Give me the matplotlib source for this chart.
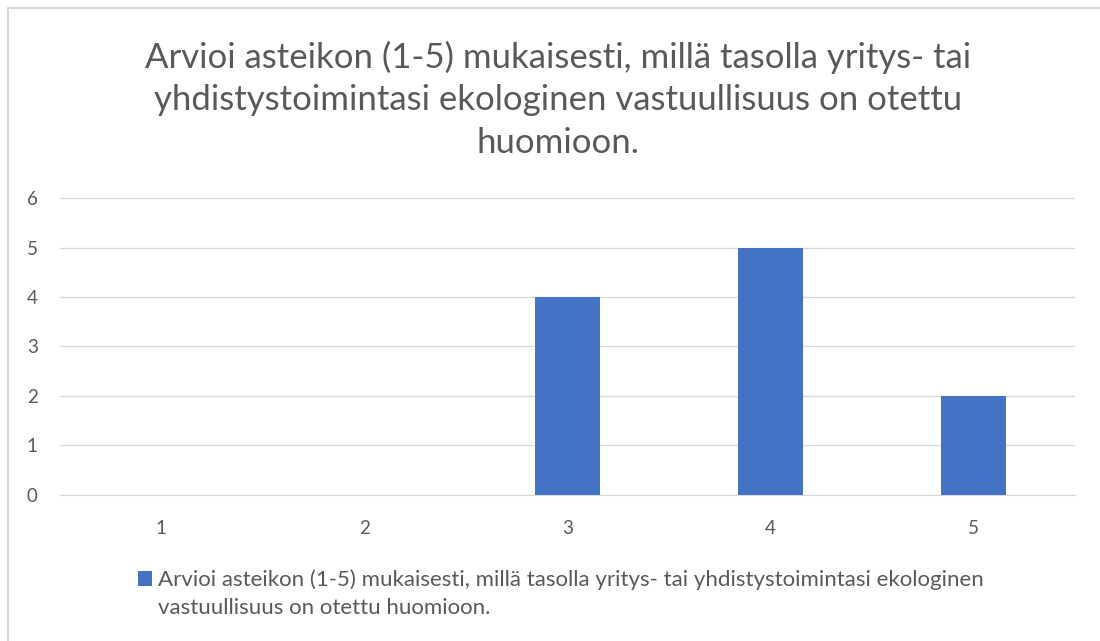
import matplotlib.pyplot as plt
from matplotlib.lines import Line2D
from matplotlib.patches import Rectangle
from matplotlib.container import BarContainer
from matplotlib.legend_handler import HandlerPatch, update_from_first_child

# данные
kategoriat = ['1', '2', '3', '4', '5']
arvot = [0, 0, 4, 5, 2]
y_ticks = [0, 1, 2, 3, 4, 5, 6]
otsikko = ('Arvioi asteikon (1-5) mukaisesti, millä tasolla yritys- tai\n'
           'yhdistystoimintasi ekologinen vastuullisuus on otettu\nhuomioon.')
selite = ('Arvioi asteikon (1-5) mukaisesti, millä tasolla yritys- tai yhdistystoimintasi ekologinen\n'
          'vastuullisuus on otettu huomioon.')

plt.rcParams['font.family'] = ['Lato', 'DejaVu Sans']

fig = plt.figure(figsize=(11, 6.41), dpi=100)
ax = fig.add_axes([0.0545, 0.228, 0.9225, 0.463])

x = range(len(kategoriat))
ax.bar(x, arvot, width=0.32, color='#4472C4', zorder=3, label=selite)
ax.set_xlim(-0.5, len(kategoriat) - 0.5)
ax.set_ylim(0, 6)
ax.set_yticks(y_ticks)
ax.set_xticks(list(x))
ax.set_xticklabels(kategoriat)
ax.grid(axis='y', color='#D9D9D9', linewidth=1, zorder=0)
for s in ['top', 'right', 'left']:
    ax.spines[s].set_visible(False)
ax.spines['bottom'].set_color('#D9D9D9')
ax.tick_params(length=0, labelsize=13.5, colors='#595959')
ax.tick_params(axis='x', pad=18)
ax.tick_params(axis='y', pad=16)

fig.text(0.507, 0.937, otsikko, ha='center', va='top', fontsize=25,
         color='#595959', linespacing=1.42)


# квадратик легенды на уровне первой строки
def ruutu(legend, orig_handle, xdescent, ydescent, width, height, fontsize):
    return Rectangle((-xdescent, -ydescent + 0.7 * fontsize), width, height)


leg = fig.legend(loc='upper left', bbox_to_anchor=(0.125, 0.111), frameon=False,
                 fontsize=16, labelcolor='#595959', handlelength=0.65, handleheight=0.65,
                 handletextpad=0.25, borderpad=0, borderaxespad=0,
                 handler_map={BarContainer: HandlerPatch(patch_func=ruutu,
                                                         update_func=update_from_first_child)})
leg.get_texts()[0].set_linespacing(1.45)

# рамка вокруг диаграммы (видна только слева и сверху)
bx, by = 8 / 1100, 1 - 8 / 641
fig.add_artist(Line2D([bx, bx], [0, by], transform=fig.transFigure, color='#D9D9D9', lw=1.5))
fig.add_artist(Line2D([bx, 1], [by, by], transform=fig.transFigure, color='#D9D9D9', lw=1.5))

plt.savefig('out.png', dpi=100)
